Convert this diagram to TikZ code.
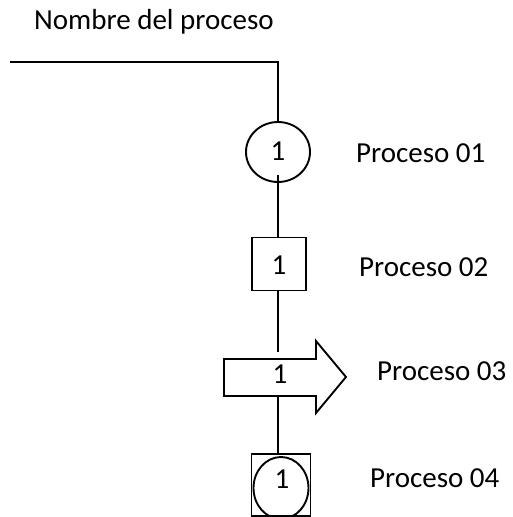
\documentclass[tikz,border=0pt]{standalone}
\usepackage{fontspec}
\setmainfont{Carlito}
\usetikzlibrary{shapes.geometric}
\begin{document}
\begin{tikzpicture}[x=1pt,y=-1pt,
  ln/.style={line width=1.9pt,black},
  lbl/.style={font=\fontsize{29}{34}\selectfont,anchor=west,inner sep=0pt},
  num/.style={font=\fontsize{29}{34}\selectfont,inner sep=0pt}]
\useasboundingbox (0,0) rectangle (512,517);
\begin{scope}
\clip (0,0) rectangle (512,517);
% title
\node[lbl] (title) at (34,22) {Nombre del proceso};
% top line
\coordinate (tl) at (10,62);
\coordinate (tr) at (278,62);
% process 1: circle
\node[ln,draw,ellipse,minimum width=64,minimum height=60,inner sep=0pt] (c1) at (278,152) {};
\node[num] (n1) at (278,151) {1};
\node[lbl] (l1) at (356,153) {Proceso 01};
% process 2: square
\node[ln,draw,rectangle,minimum width=54,minimum height=53,inner sep=0pt] (s2) at (279,264) {};
\node[num] (n2) at (279,265) {1};
\node[lbl] (l2) at (359,267) {Proceso 02};
% process 3: arrow
\coordinate (a3top) at (278,359);
\coordinate (a3bot) at (278,396);
\coordinate (a3gap) at (278,352);
\draw[ln,line join=miter] (224,359) -- (316,359) -- (316,341) -- (346,377) -- (316,413) -- (316,396) -- (224,396) -- cycle;
\node[num] (n3) at (280,374) {1};
\node[lbl] (l3) at (377,371) {Proceso 03};
% process 4: square with circle
\node[ln,draw,rectangle,minimum width=59,minimum height=62,inner sep=0pt] (s4) at (281,485) {};
\node[ln,draw,ellipse,minimum width=55,minimum height=62,inner sep=0pt] (c4) at (281,488) {};
\node[num] (n4) at (282,479) {1};
\node[lbl] (l4) at (370,478) {Proceso 04};
% connectors
\coordinate (c1b) at (278,175);
\draw[ln] (tl) -- (tr) -- (c1.north);
\draw[ln] (c1b) -- (s2.north -| c1b);
\draw[ln] (s2.south -| c1b) -- (a3gap);
\draw[ln] (a3bot) -- (s4.north -| c1b);
\end{scope}
\end{tikzpicture}
\end{document}
